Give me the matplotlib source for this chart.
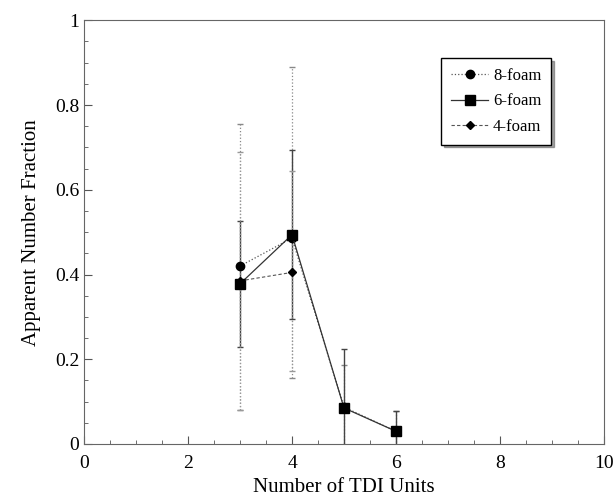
import matplotlib
matplotlib.use("Agg")
import matplotlib.pyplot as plt
import numpy as np
from matplotlib.ticker import MultipleLocator, FormatStrFormatter

plt.rcParams['font.family'] = ['Liberation Serif', 'DejaVu Serif']

# data
x8 = [3, 4, 5, 6]
y8 = [0.42, 0.486, 0.087, 0.03]
lo8 = [0.34, 0.33, 0.10, 0.048]
hi8 = [0.336, 0.404, 0.10, 0.048]

x6 = [3, 4, 5, 6]
y6 = [0.378, 0.494, 0.085, 0.03]
e6 = [0.148, 0.199, 0.139, 0.048]

x4 = [3, 4]
y4 = [0.385, 0.405]
lo4 = [0.305, 0.232]
hi4 = [0.305, 0.24]

fig = plt.figure(figsize=(6.15, 5.0), dpi=100)
ax = fig.add_axes([0.1366, 0.112, 0.8455, 0.8474])

l8 = ax.errorbar(x8, y8, yerr=[lo8, hi8], color='#555555', ls=':', lw=0.9,
                 marker='o', ms=6, mfc='black', mec='black',
                 ecolor='#888888', elinewidth=0.9, capsize=2.5, label='8-foam')
l8[2][0].set_linestyle(':')
l6 = ax.errorbar(x6, y6, yerr=e6, color='#333333', ls='-', lw=0.9,
                 marker='s', ms=6.5, mfc='black', mec='black',
                 ecolor='#444444', elinewidth=1.0, capsize=2.5, label='6-foam')
l4 = ax.errorbar(x4, y4, yerr=[lo4, hi4], color='#555555', ls='--', lw=0.8,
                 dashes=(3, 2), marker='D', ms=4.5, mfc='black', mec='black',
                 ecolor='#999999', elinewidth=0.9, capsize=2.5, label='4-foam')
l4[2][0].set_linestyle(':')

ax.set_xlim(0, 10)
ax.set_ylim(0, 1)
ax.xaxis.set_major_locator(MultipleLocator(2))
ax.xaxis.set_minor_locator(MultipleLocator(0.5))
ax.yaxis.set_major_locator(MultipleLocator(0.2))
ax.yaxis.set_minor_locator(MultipleLocator(0.05))
ax.yaxis.set_major_formatter(FormatStrFormatter('%g'))
ax.tick_params(which='both', direction='in', labelsize=14, color='#555555')
ax.tick_params(which='major', length=6, width=0.8)
ax.tick_params(which='minor', length=3, width=0.6)
ax.tick_params(axis='x', pad=8)
for s in ax.spines.values():
    s.set_color('#666666')
    s.set_linewidth(0.8)

ax.set_xlabel('Number of TDI Units', fontsize=15, labelpad=4)
ax.set_ylabel('Apparent Number Fraction', fontsize=15, labelpad=10)

leg = ax.legend([l8[0], l6[0], l4[0]], ['8-foam', '6-foam', '4-foam'],
                loc='upper right', bbox_to_anchor=(0.915, 0.93), fontsize=12,
                fancybox=False, shadow=True, edgecolor='black',
                handlelength=2.2, borderpad=0.6, labelspacing=0.55,
                handletextpad=0.3)
leg.get_frame().set_linewidth(1.0)

fig.savefig('out.png', dpi=100)
